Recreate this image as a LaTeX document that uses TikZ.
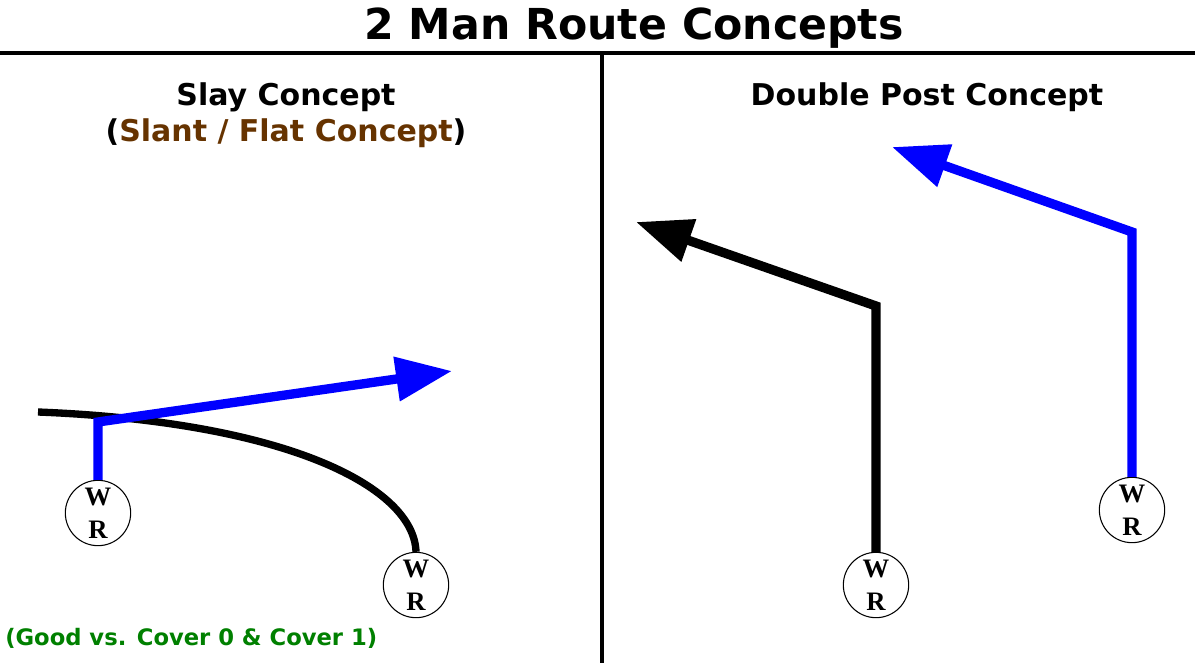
\documentclass[tikz,border=0pt]{standalone}
\usepackage{fontspec}
\setmainfont{DejaVu Sans}
\newfontfamily\wrfont{Liberation Serif}
\usetikzlibrary{positioning, arrows.meta}
\definecolor{routeblue}{RGB}{0,0,255}
\definecolor{slaybrown}{RGB}{102,51,0}
\definecolor{covergreen}{RGB}{0,128,0}

\begin{document}
\begin{tikzpicture}[x=0.75pt, y=-0.75pt,
		wr/.style={circle, draw, line width=0.8pt, minimum size=49pt, inner sep=0pt, align=center,
			font=\wrfont\bfseries\fontsize{20}{24.5}\selectfont},
		heading/.style={anchor=base, inner sep=0pt, font=\bfseries\fontsize{22.5}{27}\selectfont},
		route/.style={line width=7pt, -{Triangle[length=42pt, width=32pt]}},
		divider/.style={line width=3pt}]
				\useasboundingbox (0,0) rectangle (1195,663);
				% frame
				\coordinate (rowL) at (0,53);
				\coordinate (rowR) at (1195,53);
				\coordinate (colT) at (602,53);
				\coordinate (colB) at (602,663);
				\draw[divider] (rowL) -- (rowR);
				\draw[divider] (colT) -- (colB);
				% texts
				\node[heading, font=\bfseries\fontsize{32}{38}\selectfont] (title) at (634,40) {2 Man Route Concepts};
				\node[heading] (slay) at (286,106) {Slay Concept};
				\node[heading] (slant) at (286,142) {(\textcolor{slaybrown}{Slant / Flat Concept})};
				\node[heading] (dpost) at (927,106) {Double Post Concept};
				\node[heading, anchor=base west, text=covergreen, font=\bfseries\fontsize{17}{20}\selectfont] (cover) at (5,645) {(Good vs. Cover 0 \& Cover 1)};
				% receivers
				\node[wr] (wrA) at (98,513) {W\\R};
				\node[wr] (wrB) at (416,585) {W\\R};
				\node[wr] (wrC) at (876,585) {W\\R};
				\node[wr] (wrD) at (1132,510) {W\\R};
				% route points
				\coordinate (flatEnd) at (38,412);
				\coordinate (slantBreak) at (98,422);
				\coordinate (slantTip) at (452,371);
				\coordinate (postBreakC) at (876,306);
				\coordinate (postTipC) at (636,222);
				\coordinate (postBreakD) at (1132,232);
				\coordinate (postTipD) at (892,147);
				% routes
				\draw[line width=5.5pt] (wrB.north) .. controls (414,488) and (290,422) .. (flatEnd);
				\draw[route, routeblue] (wrA.north) -- (slantBreak) -- (slantTip);
				\draw[route] (wrC.north) -- (postBreakC) -- (postTipC);
				\draw[route, routeblue] (wrD.north) -- (postBreakD) -- (postTipD);
			\end{tikzpicture}
\end{document}
